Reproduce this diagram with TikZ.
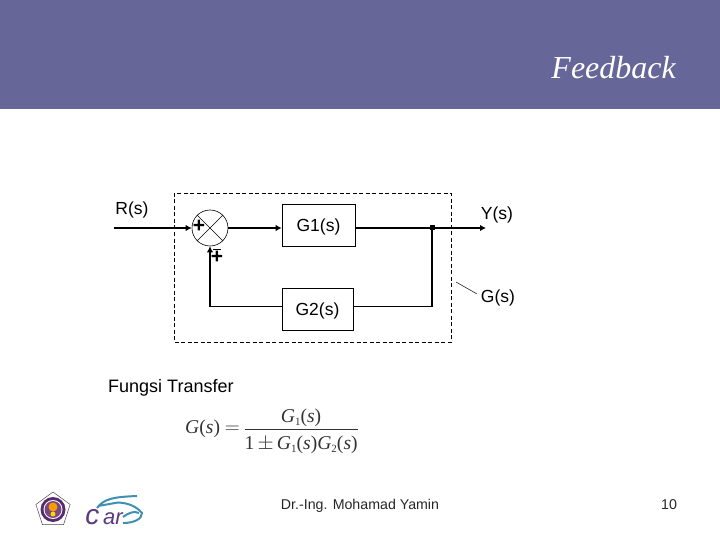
\documentclass[tikz,border=0pt]{standalone}
\usepackage{fontspec}
\setmainfont{Liberation Sans}
\newfontfamily\formfont{Liberation Serif}
\usetikzlibrary{positioning,arrows.meta,shapes.geometric,shapes.misc}
\definecolor{headcol}{HTML}{666699}
\definecolor{sealcol}{HTML}{5A2A6E}
\definecolor{carcol}{HTML}{3F8FB0}
\definecolor{arcol}{HTML}{5A3A80}
\tikzset{
  label text/.style={font=\fontsize{17.5}{20}\selectfont, inner sep=0pt, text height=12.5pt, text depth=0pt},
  foot text/.style={font=\fontsize{14.2}{16}\selectfont, text=black!85, inner sep=0pt, text height=10pt, text depth=0pt},
  blockbox/.style={draw, line width=0.7pt, minimum height=42pt, inner sep=0pt, label text},
  signal/.style={line width=1.5pt, -{Latex[length=6pt,width=6.5pt]}},
  feedline/.style={line width=1pt},
  signtext/.style={font=\bfseries\fontsize{21}{21}\selectfont, inner sep=0pt}
}
\newcommand{\SubNum}[1]{\raisebox{-3pt}{\fontsize{11}{11}\selectfont #1}}
\newcommand{\Var}[1]{\textit{#1}}

\begin{document}
\begin{tikzpicture}[x=1pt, y=-1pt, line cap=butt, line join=miter]
  \useasboundingbox (0,0) rectangle (720,540);

  % Header band
  \fill[headcol] (0,0) rectangle (720,109);
  \node[anchor=east, inner sep=0pt, text=white, font=\formfont\itshape\fontsize{32}{36}\selectfont] (title) at (676,68) {Feedback};

  % System boundary
  \draw[dashed, line width=0.7pt, dash pattern=on 4pt off 2.5pt] (174,193) rectangle (451,342);

  % Blocks
  \node[draw, circle, minimum size=36pt, inner sep=0pt, line width=0.6pt] (sum) at (210,228) {};
  \draw[line width=0.6pt] (sum.45) -- (sum.225) (sum.135) -- (sum.-45);
  \node[blockbox, minimum width=73pt] (gone) at (318.5,225) {G1(s)};
  \node[blockbox, minimum width=71pt] (gtwo) at (317.5,309) {G2(s)};

  % Free ends and joints
  \coordinate (in) at (114,228);
  \coordinate (out) at (486,228);
  \coordinate (joint) at (432,228);
  \coordinate (backright) at (432,306.5);
  \coordinate (backleft) at (210,306.5);
  \coordinate (leadA) at (456,282);
  \coordinate (leadB) at (477,294);

  % Signal lines
  \draw[signal] (in) -- (sum.west);
  \draw[signal] (sum.east) -- (gone.west |- sum.east);
  \draw[signal] (gone.east |- joint) -- (out);
  \draw[line width=1.5pt] (joint) -- (backright);
  \draw[feedline] (backright) -- (gtwo.east |- backright);
  \draw[feedline] (gtwo.west |- backleft) -- (backleft);
  \draw[signal] (backleft) -- (sum.south);
  \fill (joint) ++(-2.5,-2.5) rectangle ++(5,5);
  \draw[line width=0.5pt] (leadA) -- (leadB);

  % Signs
  \node[signtext] (plus) at (199,226.5) {+};
  \node[signtext] (minus) at (217,257) {+};
  \draw[line width=1pt] (213,249) -- (221,249);

  % Labels
  \node[label text] (rs) at (132,208) {R(s)};
  \node[label text] (ys) at (497,213) {Y(s)};
  \node[label text] (gs) at (498,296) {G(s)};
  \node[label text, anchor=west, font=\fontsize{18}{20}\selectfont] (fungsi) at (108,386.5) {Fungsi Transfer};

  % Transfer function
  \node[inner sep=0pt, text=black!80, anchor=west, font=\formfont\fontsize{19.6}{24}\selectfont] (formula) at (185,431)
    {$\hbox{\Var{G}(\Var{s}) }{=}\,\frac{\hbox{\rule[-6pt]{0pt}{6pt}\Var{G}\SubNum{1}(\Var{s})}}{\hbox{\rule{0pt}{20pt}1\,$\pm$\,\Var{G}\SubNum{1}(\Var{s})\Var{G}\SubNum{2}(\Var{s})}}$};

  % Footer
  \node[foot text] (author) at (360,504) {Dr.-Ing. Mohamad Yamin};
  \node[foot text] (page) at (669,504) {10};

  % Seal logo
  \node[regular polygon, regular polygon sides=5, draw=black!70, fill=white, minimum size=36pt, inner sep=0pt, line width=0.5pt] (seal) at (53,510) {};
  \fill[sealcol] (53,509.5) circle (12.5);
  \fill[white] (53,509.5) circle (9.5);
  \fill[sealcol!85] (53,509.5) circle (8.5);
  \fill[orange!80!yellow] (53,507) circle (4.5);
  \fill[yellow!70!orange] (53,514) circle (2.5);

  % Car logo
  \draw[carcol, line width=2pt] (97,508) .. controls (104,499) and (112,497) .. (137,496);
  \draw[carcol, line width=2pt] (98,506) -- (118,502.5) .. controls (128,503) and (136,506) .. (142,513)
    .. controls (142,519) and (134,523) .. (123,523);
  \draw[carcol, line width=2pt] (123,517) .. controls (130,512) and (134,511) .. (139,513);
  \node[text=arcol, font=\itshape\fontsize{24}{24}\selectfont, inner sep=0pt] (carname) at (104,517) {\fontsize{28}{28}\selectfont\textit{c}\fontsize{22}{22}\selectfont\,ar};
\end{tikzpicture}
\end{document}
